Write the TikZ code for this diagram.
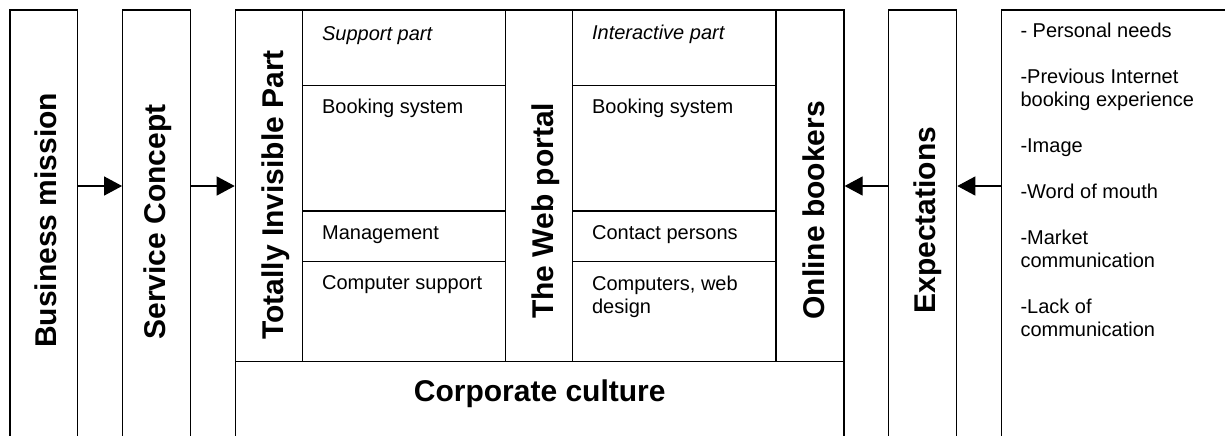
\documentclass[tikz,border=0pt]{standalone}
\usepackage{fontspec}
\setmainfont{Liberation Sans}
\usetikzlibrary{arrows.meta,fit}

\tikzset{
  cell/.style={draw, line width=0.6pt, inner sep=0pt},
  title/.style={font=\fontsize{15pt}{18pt}\selectfont\bfseries, rotate=90,
    anchor=base west, inner sep=0pt},
  banner/.style={font=\fontsize{15pt}{18pt}\selectfont\bfseries,
    anchor=base, inner sep=0pt},
  entry/.style={font=\fontsize{10pt}{11.5pt}\selectfont, anchor=base west,
    inner sep=0pt, align=left},
  block/.style={entry, anchor=north west},
  feed/.style={-{Triangle[length=9pt,width=9.5pt]}, line width=0.6pt},
}

\begin{document}
\begin{tikzpicture}[x=0.5pt,y=-0.5pt]
  \clip (0,0) rectangle (1225,435);

  % outer columns
  \node[cell, fit={(10,10) (77.7,445)}] (mission) {};
  \node[cell, fit={(122.7,10) (190.7,445)}] (concept) {};
  \node[cell, fit={(888.7,10) (956.7,445)}] (expect) {};
  \node[cell, fit={(1001.3,10) (1240,445)}] (factors) {};

  % service system
  \node[cell, fit={(235.3,10) (302.7,361.7)}] (invisible) {};
  \node[cell, fit={(302.7,10) (505.7,85.3)}] (support0) {};
  \node[cell, fit={(302.7,85.3) (505.7,211)}] (support1) {};
  \node[cell, fit={(302.7,211) (505.7,261.7)}] (support2) {};
  \node[cell, fit={(302.7,261.7) (505.7,361.7)}] (support3) {};
  \node[cell, fit={(505.7,10) (572.7,361.7)}] (portal) {};
  \node[cell, fit={(572.7,10) (776,85.3)}] (inter0) {};
  \node[cell, fit={(572.7,85.3) (776,211)}] (inter1) {};
  \node[cell, fit={(572.7,211) (776,261.7)}] (inter2) {};
  \node[cell, fit={(572.7,261.7) (776,361.7)}] (inter3) {};
  \node[cell, fit={(776,10) (844,361.7)}] (bookers) {};
  \node[cell, fit={(235.3,361.7) (844,445)}] (culture) {};

  % titles
  \node[title] (missiontext) at (56,348.3) {Business mission};
  \node[title] (concepttext) at (165,340) {Service Concept};
  \node[title] (invisibletext) at (283.3,340) {Totally Invisible Part};
  \node[title] (portaltext) at (553.3,319.3) {The Web portal};
  \node[title] (bookerstext) at (824,320) {Online bookers};
  \node[title] (expecttext) at (935.7,314) {Expectations};
  \node[banner] (culturetext) at (539.7,401) {Corporate culture};

  % cell texts
  \node[entry] (s0) at ([shift={(19.6,31)}]support0.north west) {\itshape Support part};
  \node[entry] (s1) at ([shift={(19.6,29.2)}]support1.north west) {Booking system};
  \node[entry] (s2) at ([shift={(19.6,29)}]support2.north west) {Management};
  \node[entry] (s3) at ([shift={(19.6,28.3)}]support3.north west) {Computer support};
  \node[entry] (i0) at ([shift={(19.6,30)}]inter0.north west) {\itshape Interactive part};
  \node[entry] (i1) at ([shift={(19.6,29.2)}]inter1.north west) {Booking system};
  \node[entry] (i2) at ([shift={(19.6,29)}]inter2.north west) {Contact persons};
  \node[block] (i3) at ([shift={(19.6,14)}]inter3.north west) {Computers, web\\design};
  \node[block] (f) at ([shift={(19.4,12.7)}]factors.north west)
    {- Personal needs\\[11.5pt]
     -Previous Internet\\booking experience\\[11.5pt]
     -Image\\[11.5pt]
     -Word of mouth\\[11.5pt]
     -Market\\communication\\[11.5pt]
     -Lack of\\communication};

  % arrows
  \coordinate (row) at (0,186);
  \draw[feed] (mission.east |- row) -- (concept.west |- row);
  \draw[feed] (concept.east |- row) -- (invisible.west |- row);
  \draw[feed] (expect.west |- row) -- (bookers.east |- row);
  \draw[feed] (factors.west |- row) -- (expect.east |- row);
\end{tikzpicture}
\end{document}
